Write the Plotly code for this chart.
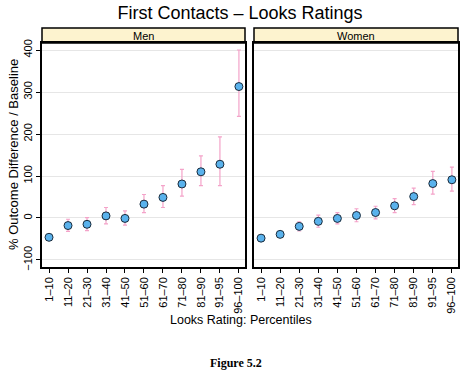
import plotly.graph_objects as go

categories = ["1–10", "11–20", "21–30", "31–40", "41–50", "51–60",
              "61–70", "71–80", "81–90", "91–95", "96–100"]

men_values = [-46, -18, -15, 5, -1, 33, 49, 81, 110, 128, 313]
men_upper = [-40, -3, 1, 25, 17, 56, 77, 116, 148, 193, 400]
men_lower = [-52, -32, -30, -14, -17, 13, 25, 52, 77, 77, 242]

women_values = [-48, -39, -20, -8, -1, 6, 13, 29, 51, 82, 91]
women_upper = [-44, -35, -9, 7, 13, 22, 28, 46, 71, 111, 121]
women_lower = [-52, -43, -31, -22, -14, -9, -2, 13, 32, 57, 64]

y_ticks = [-100, 0, 100, 200, 300, 400]

W, H = 474, 376
L, R, T, B = 42, 458, 28, 267  # pixel extents (strip top .. plot bottom)
ml, mr, mt, mb = L, W - R, T, H - B
pw, ph = W - ml - mr, H - mt - mb


def px(x):
    return (x - L) / pw


def py(y):
    return (B - y) / ph


ytop = py(43)
strip_top = 1.0

men_dom = [0, px(245)]
women_dom = [px(254), 1]

pink = "#F4A3C9"
blue = "#5AB2EC"
fig = go.Figure()


def add_series(vals, up, lo, xa, ya):
    fig.add_trace(go.Scatter(
        x=list(range(len(categories))), y=vals, mode="markers",
        xaxis=xa, yaxis=ya,
        marker=dict(size=8, color=blue, line=dict(color="#1a2a3a", width=1)),
        error_y=dict(type="data", symmetric=False,
                     array=[u - v for u, v in zip(up, vals)],
                     arrayminus=[v - l for v, l in zip(vals, lo)],
                     color=pink, thickness=1.2, width=2),
        showlegend=False, hoverinfo="skip"))


add_series(men_values, men_upper, men_lower, "x", "y")
add_series(women_values, women_upper, women_lower, "x2", "y2")

font = "Liberation Sans, Arial, sans-serif"
xcommon = dict(tickmode="array", tickvals=list(range(len(categories))),
               ticktext=categories, tickangle=-90, range=[-0.37, 10.32],
               ticks="outside", ticklen=4, tickcolor="black",
               showgrid=False, zeroline=False, showline=True, mirror=True,
               linecolor="black", linewidth=1.5, automargin=False,
               tickfont=dict(size=11, color="black", family=font))
ycommon = dict(range=[-116.7, 416.7], tickvals=y_ticks, showgrid=True,
               gridcolor="#E6E6E6", gridwidth=1.2, zeroline=False,
               showline=True, mirror=True, linecolor="black", linewidth=1.5,
               domain=[0, ytop], automargin=False)

fig.update_layout(
    template="none",
    width=W, height=H, margin=dict(l=ml, r=mr, t=mt, b=mb, autoexpand=False),
    paper_bgcolor="white", plot_bgcolor="white",
    font=dict(family=font, color="black"),
    xaxis=dict(domain=men_dom, anchor="y", **xcommon),
    xaxis2=dict(domain=women_dom, anchor="y2", **xcommon),
    yaxis=dict(anchor="x", ticks="outside", ticklen=4, tickcolor="black",
               tickangle=-90, tickfont=dict(size=11, color="black", family=font),
               **ycommon),
    yaxis2=dict(anchor="x2", matches="y", showticklabels=False, ticks="",
                **ycommon),
    title=dict(text="First Contacts – Looks Ratings", x=240 / W,
               xanchor="center", y=1 - 13 / H, yanchor="middle",
               font=dict(size=18, color="black", family=font)),
)

shapes = []
annotations = []
for dom, label in [(men_dom, "Men"), (women_dom, "Women")]:
    shapes.append(dict(type="rect", xref="paper", yref="paper",
                       x0=dom[0], x1=dom[1], y0=ytop, y1=strip_top,
                       fillcolor="#FDF3CF", line=dict(color="black", width=1.5),
                       layer="below"))
    annotations.append(dict(text=label, xref="paper", yref="paper",
                            x=(dom[0] + dom[1]) / 2, y=(ytop + strip_top) / 2,
                            xanchor="center", yanchor="middle", showarrow=False,
                            font=dict(size=11, color="black", family=font)))

annotations.append(dict(text="% Outcome Difference / Baseline", xref="paper",
                        yref="paper", x=px(13), y=py(155),
                        textangle=-90, xanchor="center", yanchor="middle",
                        showarrow=False,
                        font=dict(size=13, color="black", family=font)))
annotations.append(dict(text="Looks Rating: Percentiles", xref="paper",
                        yref="paper", x=px(241), y=py(320),
                        xanchor="center", yanchor="middle", showarrow=False,
                        font=dict(size=12.5, color="black", family=font)))
annotations.append(dict(text="<b>Figure 5.2</b>", xref="paper", yref="paper",
                        x=px(236), y=py(363),
                        xanchor="center", yanchor="middle", showarrow=False,
                        font=dict(size=12, color="black",
                                  family="Liberation Serif, Times New Roman, serif")))

fig.update_layout(shapes=shapes, annotations=annotations)
fig.write_html("out.html",
               config={"displayModeBar": False},
               post_script="document.body.style.margin='0';"
                           "document.body.style.overflow='hidden';")
